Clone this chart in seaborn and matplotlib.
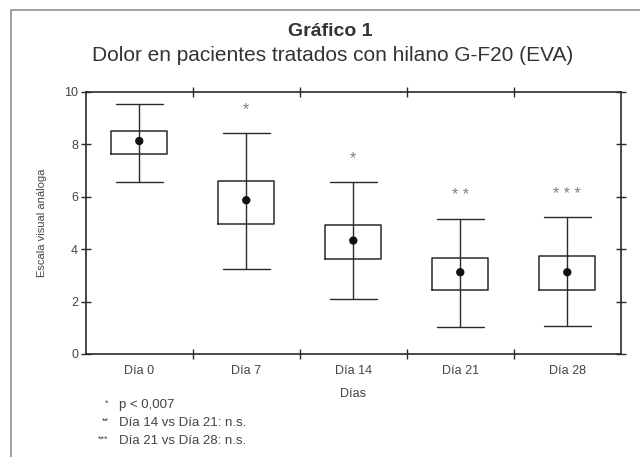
import numpy as np
import matplotlib
matplotlib.use("Agg")
import matplotlib.pyplot as plt
from matplotlib.lines import Line2D
import seaborn as sns

sns.set_theme(style="white")
plt.rcParams['font.family'] = ['Liberation Sans', 'DejaVu Sans']

# values (EVA, 0-10)
dias = ["Día 0", "Día 7", "Día 14", "Día 21", "Día 28"]
media = [8.13, 5.87, 4.33, 3.12, 3.12]
caja_inf = [7.62, 4.96, 3.63, 2.43, 2.46]
caja_sup = [8.52, 6.59, 4.94, 3.67, 3.73]
bigote_inf = [6.56, 3.24, 2.08, 1.04, 1.05]
bigote_sup = [9.55, 8.43, 6.56, 5.14, 5.21]
marcas = ["", "*", "*", "**", "***"]
notas = [("*", "p < 0,007"),
         ("**", "Día 14 vs Día 21: n.s."),
         ("***", "Día 21 vs Día 28: n.s.")]

linea = "#2a2a2a"
texto = "#444444"

fig = plt.figure(figsize=(6.4, 4.57), dpi=100)
ax = fig.add_axes([0.134, 0.2254, 0.836, 0.5733])

stats = []
for i, d in enumerate(dias):
    stats.append(dict(label=d, med=media[i], q1=caja_inf[i], q3=caja_sup[i],
                      whislo=bigote_inf[i], whishi=bigote_sup[i], fliers=[]))
pos = np.arange(len(dias))
ax.bxp(stats, positions=pos, widths=0.52, capwidths=0.44, showfliers=False,
       boxprops=dict(color=linea, linewidth=1.1),
       whiskerprops=dict(color=linea, linewidth=1.0),
       capprops=dict(color=linea, linewidth=1.0),
       medianprops=dict(linewidth=0))
# vertical line through the box, as in the original
ax.vlines(pos, caja_inf, caja_sup, color=linea, linewidth=1.0)
sns.scatterplot(x=pos, y=media, ax=ax, color="#111111", s=36, edgecolor="none", zorder=5)

for i, m in enumerate(marcas):
    if m:
        ax.text(pos[i], bigote_sup[i] + 0.72, " ".join(m) if len(m) > 1 else m,
                ha="center", va="baseline", fontsize=11.5, color="#808080")

ax.set_xlim(-0.5, 4.5)
ax.set_ylim(0, 10)
ax.set_yticks([0, 2, 4, 6, 8, 10])
ax.set_xticks(pos[:-1] + 0.5)
ax.set_xticklabels([])
ax.set_xticks(pos, minor=True)
ax.set_xticklabels(dias, minor=True)
ax.tick_params(axis="both", which="major", direction="inout", length=7, width=1,
               color=linea, labelsize=9, labelcolor=texto,
               top=True, right=True, left=True, bottom=True)
ax.tick_params(axis="x", which="minor", length=0, labelsize=9, labelcolor=texto,
               pad=8, bottom=True)
ax.tick_params(axis="y", pad=2)
for s in ax.spines.values():
    s.set_color(linea)
    s.set_linewidth(1.2)

ax.set_xlabel("Días", fontsize=9, color=texto, labelpad=8)
ax.set_ylabel("Escala visual análoga", fontsize=8, color=texto, labelpad=12)

fig.text(0.516, 0.932, "Gráfico 1", ha="center", va="center", fontsize=14,
         fontweight="bold", color="#333333")
fig.text(0.52, 0.879, "Dolor en pacientes tratados con hilano G-F20 (EVA)",
         ha="center", va="center", fontsize=15, color="#333333")

for k, (m, t) in enumerate(notas):
    y = 1 - (405 + 18 * k) / 457
    fig.text(0.170, y + 0.004, m, ha="right", va="center", fontsize=6.5, color=texto)
    fig.text(0.186, y, t, ha="left", va="center", fontsize=9.5, color=texto)

# frame of the printed figure
fig.add_artist(Line2D([0.017, 0.017], [0.0, 0.979], color="#999999", linewidth=1.3))
fig.add_artist(Line2D([0.017, 1.0], [0.979, 0.979], color="#999999", linewidth=1.3))

fig.savefig("out.png", dpi=100, facecolor="white")
